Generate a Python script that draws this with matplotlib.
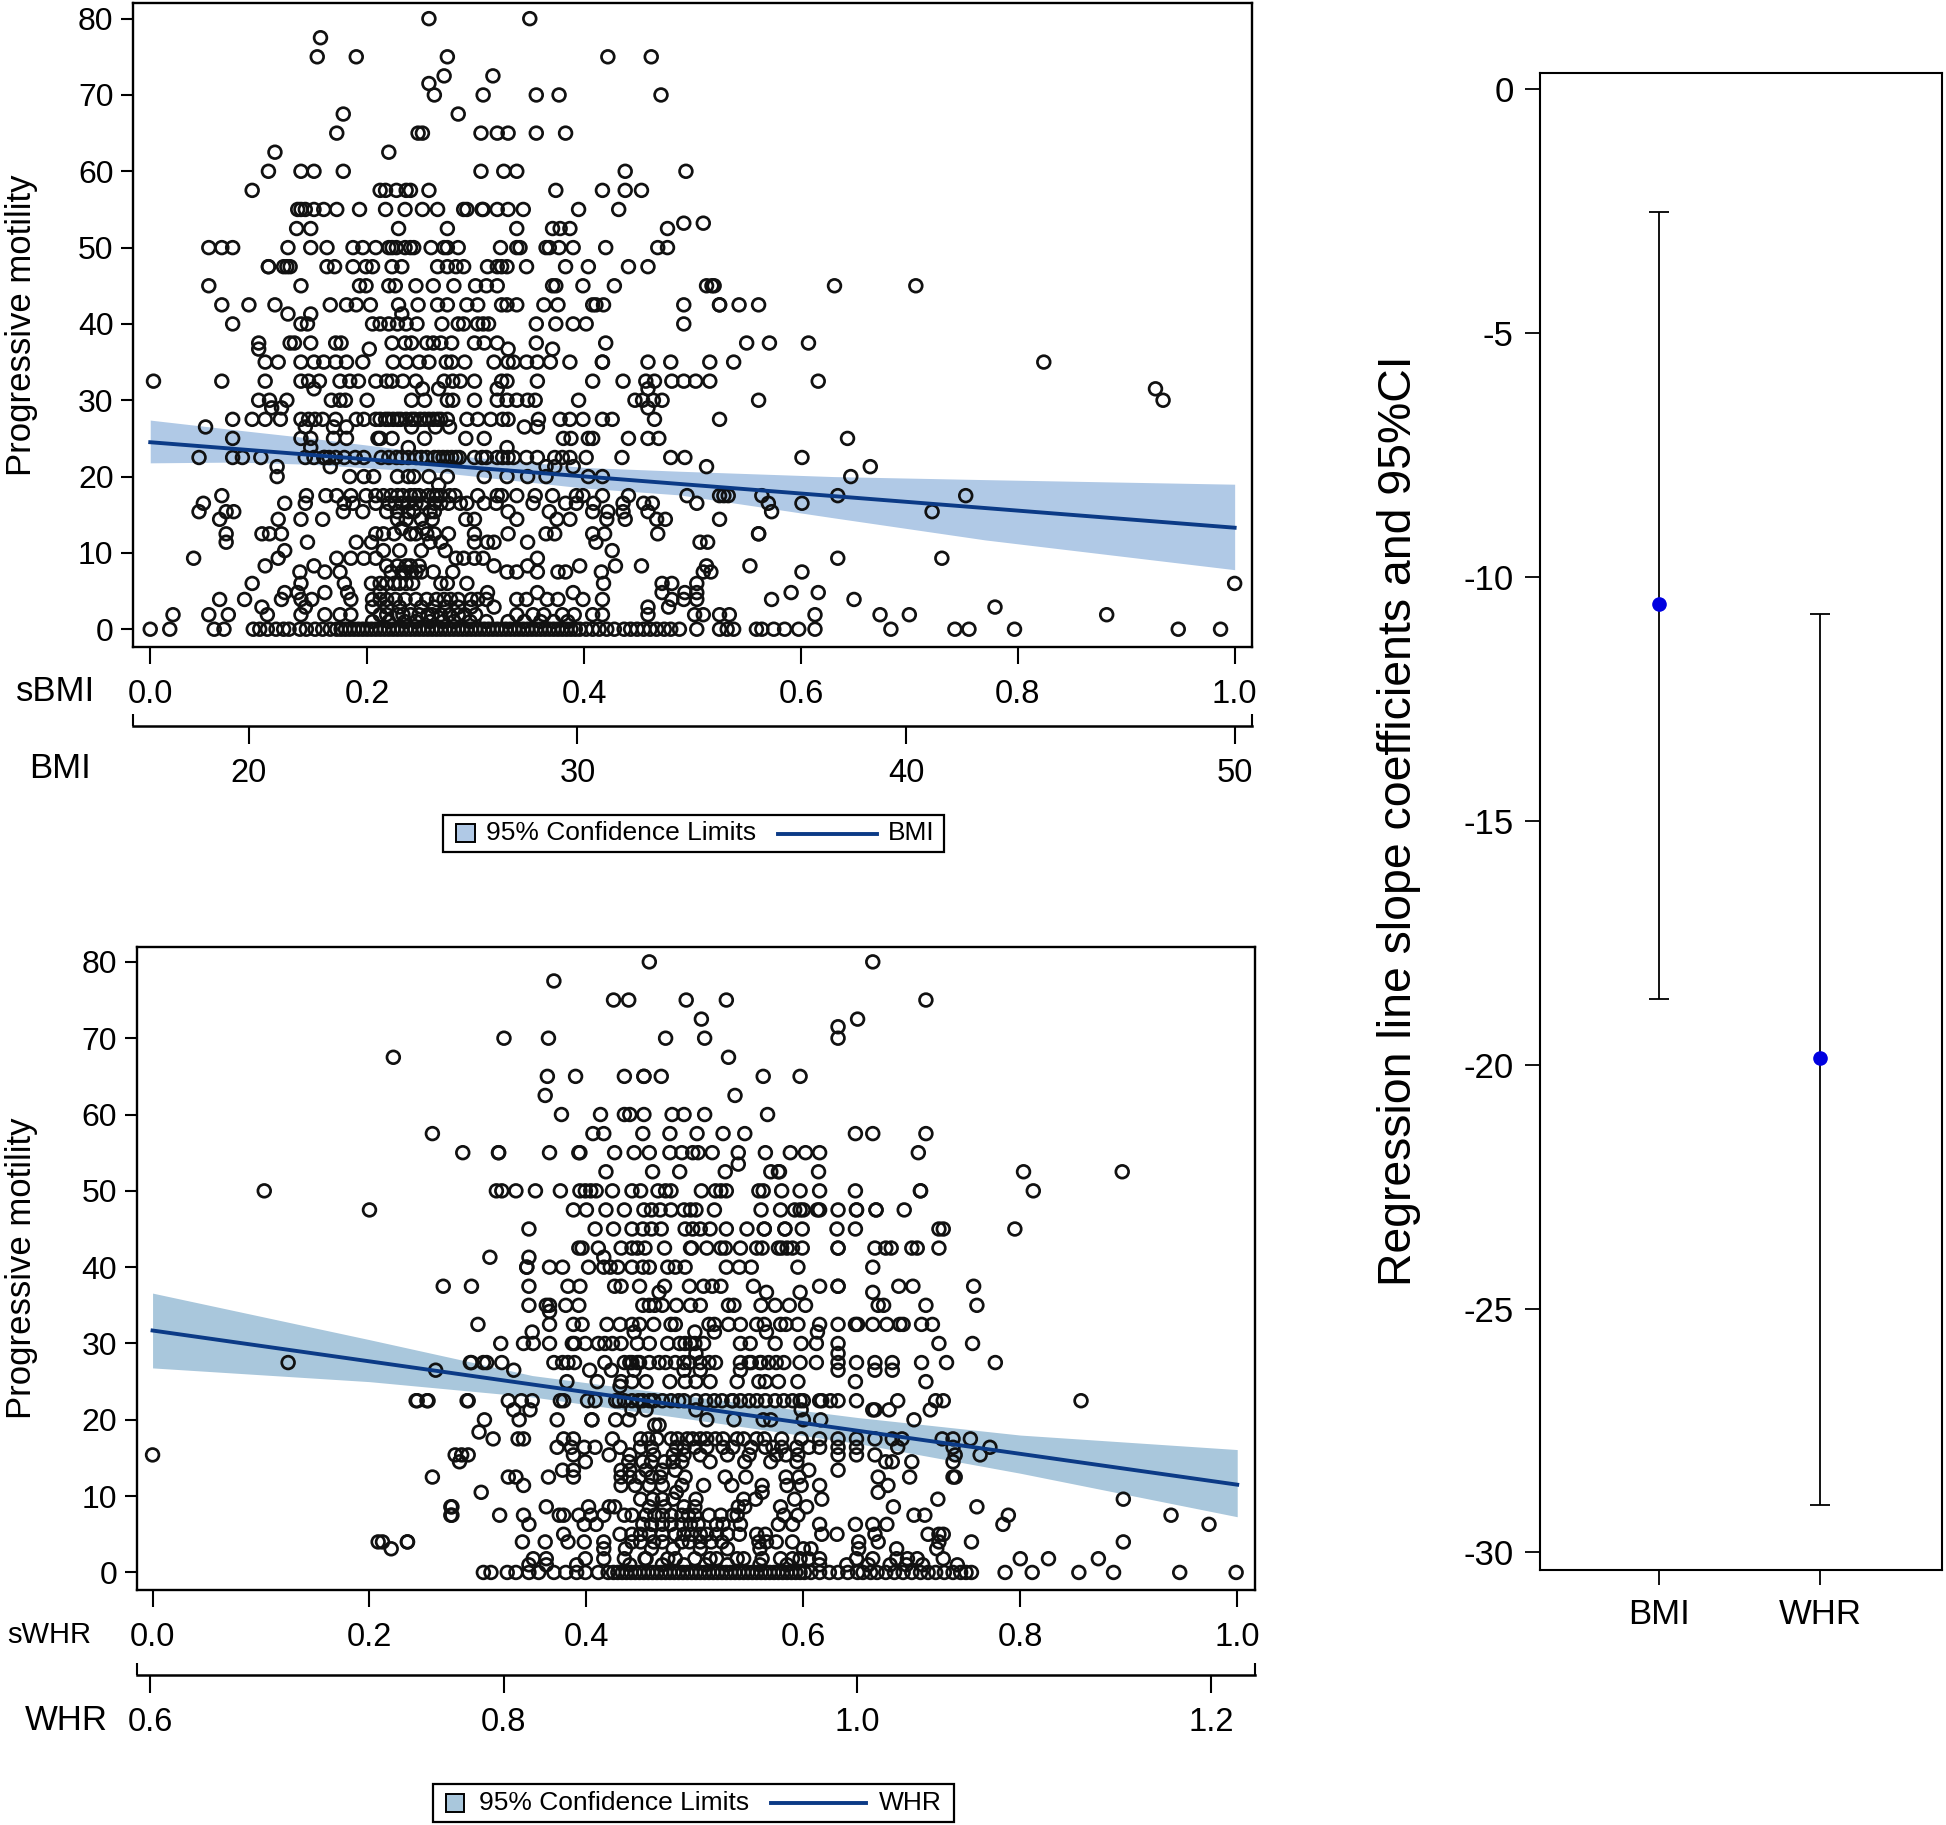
# plot.py
# Progressive motility against standardised BMI / WHR, with slope coefficients

import matplotlib
matplotlib.use("Agg")
import matplotlib.pyplot as plt
from matplotlib.lines import Line2D
from matplotlib.patches import Rectangle
import numpy as np

plt.rcParams["font.family"] = ["Liberation Sans", "DejaVu Sans"]
plt.rcParams["axes.unicode_minus"] = False

W, H = 1946, 1825

# ---------------------------------------------------------
# Data: top panel, sBMI values for each motility level
# ---------------------------------------------------------
b80 = [.257, .350]
b77 = [.157]
b75 = [.154, .190, .274, .422, .462]
b72 = [.271, .316]
b71 = [.257]
b70 = [.262, .307, .356, .377, .471]
b67 = [.178, .284]
b65 = [.247, .251, .172, .305, .320, .330, .356, .383]
b62 = [.115, .220]
b60 = [.109, .139, .151, .178, .305, .326, .338, .438, .494]
b57 = [.094, .212, .217, .227, .236, .240, .257, .374, .417, .438, .453]
b55 = [.136, .139, .143, .151, .160, .172, .193, .217, .235, .251, .265, .289, .292, .306, .307, .320, .330, .344, .395, .432]
b53 = [.492, .510]
b52 = [.135, .148, .229, .274, .338, .371, .378, .387, .477]
b50 = [.054, .066, .076, .127, .148, .163, .187, .196, .208, .220, .223, .227, .235, .240, .243, .259, .271, .274, .284, .323, .338, .341, .365, .368, .377, .390, .420, .468, .477]
b47 = [.109, .109, .123, .126, .129, .170, .187, .199, .205, .223, .232, .265, .274, .282, .289, .311, .320, .324, .329, .347, .383, .404, .441, .459, .163]
b45 = [.054, .139, .193, .199, .220, .226, .245, .261, .280, .300, .310, .320, .371, .374, .399, .428, .513, .518, .520, .631, .706]
b42 = [.066, .091, .115, .166, .181, .190, .203, .229, .247, .265, .274, .292, .302, .324, .329, .338, .363, .376, .408, .411, .418, .492, .525, .525, .543, .561]
b41 = [.127, .148, .232]
b40 = [.076, .139, .145, .205, .212, .220, .228, .236, .246, .269, .284, .289, .302, .307, .312, .356, .374, .390, .402, .492]
b37 = [.100, .129, .133, .148, .171, .176, .223, .235, .241, .255, .261, .268, .278, .299, .308, .320, .356, .420, .550, .571, .607]
b36 = [.100, .202, .330, .371]
b35 = [.106, .118, .139, .151, .160, .171, .181, .196, .224, .236, .248, .257, .273, .278, .290, .317, .330, .335, .347, .357, .369, .387, .417, .417, .459, .480, .516, .538, .824]
b32 = [.003, .066, .106, .139, .146, .156, .175, .184, .192, .208, .218, .223, .233, .245, .271, .279, .286, .299, .324, .329, .357, .408, .436, .457, .465, .481, .492, .503, .516, .616]
b31 = [.151, .251, .266, .320, .459, .927]
b30 = [.100, .110, .126, .167, .175, .180, .200, .241, .253, .274, .279, .299, .320, .329, .338, .348, .355, .395, .447, .454, .464, .472, .561, .934]
b29 = [.121, .112, .459]
b27 = [.076, .094, .106, .120, .139, .146, .152, .159, .171, .190, .197, .208, .212, .217, .220, .224, .228, .231, .236, .241, .244, .249, .253, .257, .261, .265, .268, .274, .292, .302, .314, .325, .330, .358, .378, .387, .399, .417, .426, .465, .525]
b26 = [.051, .143, .169, .181, .241, .263, .276, .345, .357]
b25 = [.076, .139, .148, .169, .181, .210, .212, .223, .253, .291, .308, .381, .388, .404, .408, .441, .459, .469, .643]
b24 = [.238, .148, .329]
b22 = [.045, .076, .085, .102, .143, .151, .160, .161, .165, .171, .179, .189, .197, .213, .220, .227, .232, .238, .245, .250, .255, .262, .266, .270, .274, .278, .282, .285, .299, .306, .310, .320, .325, .330, .335, .347, .357, .373, .380, .387, .402, .435, .480, .493, .601]
b21 = [.117, .365, .373, .390, .166, .513, .664]
b20 = [.184, .197, .206, .228, .238, .243, .257, .274, .308, .329, .348, .365, .404, .417, .117, .646]
b19 = [.266]
b17 = [.066, .144, .162, .172, .185, .199, .208, .215, .222, .228, .233, .240, .244, .248, .256, .261, .264, .268, .276, .281, .302, .320, .324, .338, .355, .371, .393, .399, .417, .441, .525, .529, .533, .564, .634, .752, .495]
b16 = [.049, .124, .143, .179, .187, .208, .220, .226, .232, .238, .245, .252, .262, .268, .275, .286, .292, .308, .319, .353, .383, .393, .409, .436, .455, .463, .504, .570, .601]
b15 = [.045, .070, .077, .178, .196, .218, .228, .238, .243, .258, .262, .330, .368, .408, .422, .436, .459, .573, .721]
b14 = [.064, .118, .139, .159, .228, .236, .250, .260, .291, .299, .338, .375, .387, .421, .438, .467, .475, .525]
b13 = [.232, .252]
b12 = [.070, .103, .110, .121, .208, .215, .225, .240, .245, .255, .262, .275, .299, .330, .365, .373, .408, .419, .468, .561, .561]
b11 = [.070, .145, .190, .204, .258, .268, .299, .311, .317, .348, .411, .507, .514]
b10 = [.124, .215, .230, .250, .272, .426]
b9 = [.040, .118, .172, .185, .197, .208, .282, .289, .299, .307, .357, .634, .730]
b8 = [.106, .151, .218, .228, .236, .240, .248, .317, .348, .396, .429, .453, .513, .553]
b7 = [.138, .161, .175, .222, .232, .235, .241, .245, .250, .261, .279, .329, .338, .357, .376, .383, .416, .510, .517, .601]
b6 = [.094, .139, .179, .204, .212, .218, .225, .230, .236, .242, .268, .274, .292, .418, .472, .481, .504, 1.0]
b5 = [.124, .136, .161, .182, .212, .311, .357, .390, .472, .493, .504, .591, .616]
b4 = [.064, .087, .121, .139, .149, .185, .205, .212, .218, .226, .235, .245, .255, .264, .271, .277, .284, .296, .302, .310, .338, .347, .366, .376, .399, .417, .481, .492, .504, .573, .649]
b3 = [.103, .143, .205, .218, .230, .250, .262, .272, .284, .296, .317, .478, .459, .779]
b2 = [.021, .054, .072, .108, .139, .161, .175, .185, .212, .218, .228, .233, .240, .248, .256, .260, .268, .276, .284, .290, .300, .338, .353, .363, .380, .391, .408, .417, .459, .510, .525, .700, .502, .613, .882, .534, .673]
b1 = [.205, .220, .235, .245, .258, .270, .280, .295, .310, .330, .345, .360, .372, .385]
b0 = [.000, .018, .059, .068, .095, .101, .108, .116, .123, .128, .138, .144, .152, .159, .166, .172, .176, .180,
      .184, .188, .192, .196, .200, .204, .208, .212, .216, .220, .224, .228, .232, .236, .240, .244, .248, .252,
      .256, .260, .264, .268, .272, .276, .280, .284, .288, .292, .296, .300, .304, .308, .312, .316, .320, .324,
      .328, .332, .336, .340, .344, .348, .352, .356, .360, .364, .368, .372, .376, .380, .384, .388, .392, .396,
      .402, .408, .414, .421, .428, .437, .443, .449, .455, .461, .467, .474, .480, .488, .504, .525, .532, .538,
      .559, .564, .575, .585, .598, .613, .683, .742, .755, .797, .948, .987]

BMI_LEVELS = [80, 77.5, 75, 72.5, 71.5, 70, 67.5, 65, 62.5, 60, 57.5, 55, 53.2, 52.5, 50, 47.5, 45, 42.5, 41.3, 40,
              37.5, 36.7, 35, 32.5, 31.5, 30, 29, 27.5, 26.5, 25, 23.8, 22.5, 21.3, 20, 18.9, 17.5, 16.5, 15.4, 14.4, 13.2,
              12.5, 11.4, 10.3, 9.3, 8.3, 7.5, 6, 4.8, 3.9, 2.9, 1.9, 1, 0]
BMI_ROWS = [b80, b77, b75, b72, b71, b70, b67, b65, b62, b60, b57, b55, b53, b52, b50, b47, b45, b42, b41, b40,
            b37, b36, b35, b32, b31, b30, b29, b27, b26, b25, b24, b22, b21, b20, b19, b17, b16, b15, b14, b13,
            b12, b11, b10, b9, b8, b7, b6, b5, b4, b3, b2, b1, b0]

bmi_line_x = [0, 1]
bmi_line_y = [24.5, 13.3]
bmi_band_x = [0, .08, .15, .27, .40, .488, .63, .77, 1]
bmi_band_hi = [27.4, 26.1, 25.0, 22.9, 21.2, 20.7, 20.0, 19.6, 19.0]
bmi_band_lo = [21.8, 21.9, 21.6, 20.5, 18.5, 17.6, 14.6, 11.7, 7.8]

# ---------------------------------------------------------
# Data: lower panel, sWHR values for each motility level
# ---------------------------------------------------------
w80 = [.458, .664]
w77 = [.370]
w75 = [.425, .439, .492, .529, .713]
w72 = [.506, .650]
w71 = [.632]
w70 = [.324, .365, .473, .509, .632]
w67 = [.531, .222]
w65 = [.364, .390, .435, .453, .453, .469, .563, .597]
w62 = [.362, .537]
w60 = [.377, .413, .435, .440, .453, .479, .490, .509, .567]
w57 = [.258, .406, .416, .452, .477, .502, .526, .546, .648, .664, .713]
w55 = [.286, .319, .319, .366, .393, .394, .426, .444, .458, .477, .488, .498, .503, .516, .540, .565, .588, .602, .615, .706]
w53 = [.540]
w52 = [.418, .461, .486, .528, .570, .577, .578, .614, .803, .894]
w50 = [.103, .317, .322, .335, .353, .376, .394, .399, .404, .409, .424, .442, .450, .466, .473, .478, .506, .519, .524, .529, .559, .563, .580, .597, .615, .648, .708, .708, .812]
w47 = [.200, .388, .400, .418, .435, .460, .468, .478, .490, .496, .501, .518, .561, .579, .592, .597, .600, .613, .615, .632, .649, .649, .667, .667, .693, .453]
w45 = [.347, .408, .425, .442, .452, .460, .469, .491, .498, .505, .514, .529, .548, .564, .564, .583, .583, .599, .631, .648, .725, .729, .795]
w42 = [.393, .396, .411, .432, .442, .447, .454, .472, .496, .497, .511, .524, .528, .542, .557, .562, .577, .580, .585, .590, .599, .632, .632, .666, .676, .681, .700, .705, .725]
w41 = [.311, .347, .416]
w40 = [.345, .345, .366, .378, .402, .416, .422, .429, .442, .452, .458, .475, .482, .491, .529, .541, .552, .595, .664]
w37 = [.268, .294, .347, .383, .394, .426, .432, .449, .472, .495, .508, .516, .524, .554, .615, .632, .632, .688, .701, .757]
w36 = [.467, .566, .597, .664]
w35 = [.347, .363, .366, .381, .393, .452, .458, .463, .470, .483, .496, .505, .531, .536, .561, .574, .587, .602, .669, .674, .713, .760]
w34 = [.366]
w32 = [.300, .366, .388, .396, .419, .431, .442, .449, .462, .478, .482, .513, .518, .531, .542, .557, .564, .579, .584, .595, .615, .632, .648, .650, .664, .677, .689, .692, .709, .719]
w31 = [.350, .444, .500, .518, .566, .613]
w30 = [.321, .342, .351, .366, .387, .389, .399, .411, .417, .424, .432, .447, .458, .475, .486, .491, .496, .500, .508, .542, .551, .574, .598, .612, .632, .725, .756]
w29 = [.632, .501]
w27 = [.125, .293, .305, .322, .370, .378, .383, .389, .417, .435, .440, .442, .447, .449, .458, .467, .473, .482, .490, .495, .505, .513, .519, .542, .550, .552, .560, .561, .568, .575, .582, .597, .612, .632, .649, .666, .682, .709, .732, .777, .294, .308]
w26 = [.261, .333, .403, .423, .444, .490, .505, .542, .632, .666, .682]
w25 = [.382, .410, .432, .442, .455, .477, .491, .501, .514, .539, .559, .565, .577, .595, .648, .713]
w24 = [.431]
w22 = [.243, .253, .290, .328, .340, .350, .376, .379, .401, .408, .427, .430, .435, .442, .448, .452, .458, .462, .470, .478, .485, .490, .501, .510, .518, .525, .534, .535, .542, .550, .557, .565, .574, .582, .590, .597, .600, .615, .617, .625, .632, .649, .687, .722, .729, .856, .244, .254, .291]
w21 = [.333, .348, .442, .455, .598, .501, .664, .679, .717, .666]
w20 = [.338, .306, .373, .405, .405, .427, .439, .511, .536, .563, .570, .600, .616, .702]
w19 = [.467, .463]
w18 = [.301]
w17 = [.314, .337, .342, .379, .388, .424, .450, .457, .465, .478, .484, .493, .498, .505, .511, .519, .526, .539, .545, .557, .564, .580, .598, .615, .632, .649, .666, .682, .691, .728, .738, .754]
w16 = [.373, .386, .398, .408, .431, .450, .460, .483, .490, .500, .511, .526, .535, .552, .565, .572, .580, .594, .605, .615, .632, .649, .687, .738, .772]
w15 = [.000, .279, .291, .388, .421, .440, .462, .480, .490, .505, .530, .550, .575, .584, .595, .632, .649, .666, .740, .763, .285]
w14 = [.283, .399, .439, .452, .460, .472, .480, .488, .514, .546, .570, .594, .676, .682, .700, .738]
w13 = [.378, .388, .432, .440, .455, .470, .482, .605, .632]
w12 = [.258, .328, .335, .365, .388, .432, .440, .449, .460, .468, .491, .528, .547, .584, .596, .669, .698, .740, .738]
w11 = [.342, .432, .445, .458, .470, .488, .508, .534, .562, .585, .598, .615, .678]
w10 = [.303, .483, .562, .669]
w9 = [.450, .461, .470, .480, .501, .545, .556, .592, .617, .724, .895]
w8 = [.363, .402, .421, .426, .458, .472, .490, .500, .540, .546, .579, .603, .276, .683, .275, .760]
w7 = [.276, .320, .342, .375, .379, .393, .404, .416, .435, .442, .455, .463, .470, .478, .488, .494, .500, .513, .524, .535, .539, .582, .595, .702, .712, .275, .789, .939]
w6 = [.347, .398, .409, .452, .460, .470, .478, .488, .496, .503, .520, .526, .542, .577, .590, .615, .648, .664, .677, .784, .974]
w5 = [.379, .431, .442, .450, .458, .470, .482, .490, .497, .505, .511, .520, .530, .541, .557, .565, .617, .631, .666, .715, .725, .729]
w4 = [.235, .341, .362, .383, .398, .416, .442, .450, .462, .470, .488, .495, .505, .515, .525, .559, .566, .575, .590, .651, .669, .725, .208, .212, .235, .755, .895]
w3 = [.416, .436, .460, .480, .505, .530, .560, .600, .607, .651, .686, .220, .723]
w2 = [.351, .363, .399, .416, .435, .454, .482, .514, .539, .562, .579, .597, .615, .649, .664, .686, .696, .705, .729, .800, .826, .872, .455, .475, .500, .520, .545, .590, .605]
w1 = [.347, .363, .391, .742, .440, .470, .490, .510, .530, .560, .585, .615, .640, .660, .680, .695, .710]
w0 = [.305, .312, .327, .335, .347, .356, .370, .381, .391, .399, .411, .420, .425, .429, .433, .437, .441, .445,
      .449, .453, .457, .461, .465, .469, .473, .477, .481, .485, .489, .493, .497, .501, .505, .509, .513, .517,
      .521, .525, .529, .533, .537, .541, .545, .549, .553, .557, .561, .565, .569, .573, .577, .581, .585, .589,
      .593, .597, .601, .607, .615, .624, .632, .641, .650, .655, .662, .668, .676, .684, .692, .700, .708, .715,
      .722, .730, .738, .745, .750, .755, .786, .811, .854, .886, .947, .999]

WHR_LEVELS = [80, 77.5, 75, 72.5, 71.5, 70, 67.5, 65, 62.5, 60, 57.5, 55, 53.5, 52.5, 50, 47.5, 45, 42.5, 41.3, 40,
              37.5, 36.7, 35, 34.2, 32.5, 31.5, 30, 28.7, 27.5, 26.5, 25, 24.4, 22.5, 21.3, 20, 19.3, 18.4, 17.5, 16.4,
              15.4, 14.5, 13.4, 12.5, 11.4, 10.5, 9.6, 8.6, 7.5, 6.3, 5, 4, 3.1, 1.8, 1, 0]
WHR_ROWS = [w80, w77, w75, w72, w71, w70, w67, w65, w62, w60, w57, w55, w53, w52, w50, w47, w45, w42, w41, w40,
            w37, w36, w35, w34, w32, w31, w30, w29, w27, w26, w25, w24, w22, w21, w20, w19, w18, w17, w16,
            w15, w14, w13, w12, w11, w10, w9, w8, w7, w6, w5, w4, w3, w2, w1, w0]

whr_line_x = [0, 1]
whr_line_y = [31.7, 11.5]
whr_band_x = [0, .2, .35, .5, .65, .8, 1]
whr_band_hi = [36.6, 30.5, 25.8, 23.0, 20.3, 18.0, 16.1]
whr_band_lo = [26.8, 25.0, 23.0, 20.0, 16.9, 13.0, 7.3]

# ---------------------------------------------------------
# Data: slope coefficients
# ---------------------------------------------------------
coef_names = ["BMI", "WHR"]
coef_mean = [-10.56, -19.87]
coef_upper = [-2.52, -10.76]
coef_lower = [-18.65, -29.03]

y_ticks = [0, 10, 20, 30, 40, 50, 60, 70, 80]
s_ticks = [0.0, 0.2, 0.4, 0.6, 0.8, 1.0]
bmi_ticks = [20, 30, 40, 50]
whr_ticks = [0.6, 0.8, 1.0, 1.2]
coef_ticks = [0, -5, -10, -15, -20, -25, -30]

LINE_COLOR = "#0b3a86"


def add_axes_px(fig, left, top, right, bottom):
    return fig.add_axes([left / W, 1 - bottom / H, (right - left) / W, (bottom - top) / H])


def draw_legend(fig, box, patch_x, text_x, line_x, label_x, band_color, label):
    # hand built, the patch and the line have different widths in the original
    x0, y0, x1, y1 = box
    ymid = (y0 + y1) / 2
    fig.add_artist(Rectangle((x0 / W, 1 - y1 / H), (x1 - x0) / W, (y1 - y0) / H, transform=fig.transFigure,
                             facecolor="white", edgecolor="black", lw=1.6))
    fig.add_artist(Rectangle((patch_x[0] / W, 1 - (ymid + 9) / H), (patch_x[1] - patch_x[0]) / W, 18 / H,
                             transform=fig.transFigure, facecolor=band_color, edgecolor="black", lw=1.4))
    fig.add_artist(Line2D([line_x[0] / W, line_x[1] / W], [1 - ymid / H] * 2, transform=fig.transFigure,
                          color=LINE_COLOR, lw=2.8))
    fig.text(text_x / W, 1 - ymid / H, "95% Confidence Limits", fontsize=19, ha="left", va="center")
    fig.text(label_x / W, 1 - ymid / H, label, fontsize=19, ha="left", va="center")


def plot_panel(fig, rect, xlim, ylim, levels, rows, line, band, band_color, sec, sec_ticks, sec_fmt, sec_offset):
    ax = add_axes_px(fig, *rect)
    ax.fill_between(band[0], band[1], band[2], color=band_color, lw=0, zorder=1)
    xs = np.concatenate([np.asarray(r, dtype=float) for r in rows])
    ys = np.concatenate([np.full(len(r), lv, dtype=float) for lv, r in zip(levels, rows)])
    ax.scatter(xs, ys, s=84, facecolors="none", edgecolors="#111111", linewidths=1.95, zorder=2)
    ax.plot(line[0], line[1], color=LINE_COLOR, lw=2.8, zorder=3)

    ax.set_xlim(*xlim)
    ax.set_ylim(*ylim)
    ax.set_yticks(y_ticks)
    ax.set_xticks(s_ticks)
    ax.set_xticklabels([f"{v:.1f}" for v in s_ticks])
    ax.tick_params(axis="y", length=9, width=1.5, labelsize=23, pad=5)
    ax.tick_params(axis="x", length=12, width=1.5, labelsize=23.5, pad=11)
    for spine in ax.spines.values():
        spine.set_linewidth(1.7)

    left, top, right, bottom = rect
    ax.set_ylabel("Progressive motility", fontsize=25)
    ax.yaxis.set_label_coords((38 - left) / (right - left), 0.5)

    # second x axis, in original units
    secax = ax.secondary_xaxis(-sec_offset / (bottom - top), functions=sec)
    secax.set_xticks(sec_ticks)
    secax.set_xticklabels([sec_fmt.format(v) for v in sec_ticks])
    lo, hi = sec[0](xlim[0]), sec[0](xlim[1])
    secax.set_xticks([lo, hi], minor=True)
    secax.tick_params(axis="x", which="major", length=13, width=1.5, labelsize=23.5, pad=10)
    secax.tick_params(axis="x", which="minor", direction="in", length=9, width=1.5)
    secax.spines["bottom"].set_linewidth(1.8)
    return ax


def main():
    fig = plt.figure(figsize=(W / 100, H / 100), dpi=100)

    plot_panel(
        fig, (133, 3, 1252, 647), (-0.0159, 1.016), (-2.33, 82.05),
        BMI_LEVELS, BMI_ROWS, (bmi_line_x, bmi_line_y), (bmi_band_x, bmi_band_hi, bmi_band_lo), "#b0c9e6",
        (lambda s: 17 + 33 * np.asarray(s), lambda b: (np.asarray(b) - 17) / 33), bmi_ticks, "{:d}", 79,
    )
    fig.text(56 / W, 1 - 691 / H, "sBMI", fontsize=25, ha="center", va="center")
    fig.text(60 / W, 1 - 769 / H, "BMI", fontsize=25, ha="center", va="center")
    draw_legend(fig, (443, 815, 944, 852), (456, 475), 486, (778, 877), 888, "#b0c9e6", "BMI")

    plot_panel(
        fig, (136.5, 947, 1255, 1590), (-0.0148, 1.0164), (-2.3, 81.95),
        WHR_LEVELS, WHR_ROWS, (whr_line_x, whr_line_y), (whr_band_x, whr_band_hi, whr_band_lo), "#a9c7dc",
        (lambda s: 0.6015 + 0.6132 * np.asarray(s), lambda w: (np.asarray(w) - 0.6015) / 0.6132), whr_ticks, "{:.1f}", 85,
    )
    fig.text(7 / W, 1 - 1635 / H, "sWHR", fontsize=21, ha="left", va="center")
    fig.text(66 / W, 1 - 1720 / H, "WHR", fontsize=25, ha="center", va="center")
    draw_legend(fig, (433, 1784, 954, 1822), (446, 464), 479, (771, 866), 879, "#a9c7dc", "WHR")

    ax = add_axes_px(fig, 1540, 73, 1942, 1570)
    x = np.arange(len(coef_names))
    means = np.array(coef_mean)
    yerr = [means - np.array(coef_lower), np.array(coef_upper) - means]
    ax.errorbar(x, means, yerr=yerr, fmt="o", color="black", mfc="#0000e0", mec="#0000e0", ms=9.5, lw=1.3, capsize=7, capthick=1.3)
    ax.set_xlim(-0.738, 1.754)
    ax.set_ylim(-30.36, 0.33)
    ax.set_xticks(x)
    ax.set_xticklabels(coef_names)
    ax.set_yticks(coef_ticks)
    ax.tick_params(axis="y", length=11, width=1.3, labelsize=25, pad=8)
    ax.tick_params(axis="x", length=11, width=1.3, labelsize=25, pad=9)
    for spine in ax.spines.values():
        spine.set_linewidth(1.5)
    fig.text(1399 / W, 1 - 821 / H, "Regression line slope coefficients and 95%CI", fontsize=33.4, rotation=90, ha="center", va="center")

    fig.savefig("out.png", dpi=100)
    plt.close(fig)


if __name__ == "__main__":
    main()
